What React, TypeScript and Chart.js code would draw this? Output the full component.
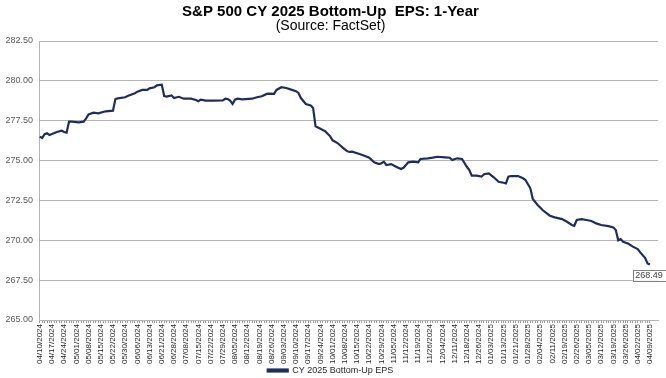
import React, { useEffect, useRef } from 'react';
import { Chart, registerables } from 'chart.js';

Chart.register(...registerables);

const titleText = 'S&P 500 CY 2025 Bottom-Up  EPS: 1-Year';
const subtitleText = '(Source: FactSet)';
const seriesName = 'CY 2025 Bottom-Up EPS';

// Weekly tick labels (every 5th trading day)
const tickLabels = [
  '04/10/2024', '04/17/2024', '04/24/2024', '05/01/2024', '05/08/2024', '05/15/2024', '05/22/2024',
  '05/30/2024', '06/06/2024', '06/13/2024', '06/21/2024', '06/28/2024', '07/08/2024', '07/15/2024',
  '07/22/2024', '07/29/2024', '08/05/2024', '08/12/2024', '08/19/2024', '08/26/2024', '09/03/2024',
  '09/10/2024', '09/17/2024', '09/24/2024', '10/01/2024', '10/08/2024', '10/15/2024', '10/22/2024',
  '10/29/2024', '11/05/2024', '11/12/2024', '11/19/2024', '11/26/2024', '12/04/2024', '12/11/2024',
  '12/18/2024', '12/26/2024', '01/03/2025', '01/13/2025', '01/21/2025', '01/28/2025', '02/04/2025',
  '02/11/2025', '02/19/2025', '02/26/2025', '03/05/2025', '03/12/2025', '03/19/2025', '03/26/2025',
  '04/02/2025', '04/09/2025',
];
const daysPerTick = 5;

// Trading-day index of each observation
const dayIndex = [
  0, 1, 2, 3, 4, 5, 7, 9, 10, 11, 12, 13, 16, 18, 19, 20, 22, 24, 27, 30,
  31, 32, 35, 36, 39, 40, 42, 44, 45, 47, 48, 50, 51, 52, 54, 55, 57, 59, 62, 64,
  65, 66, 68, 71, 75, 76, 77, 78, 79, 80, 81, 83, 87, 89, 91, 93, 94, 96, 97, 99,
  101, 103, 105, 106, 107, 109, 111, 112, 113, 115, 117, 119, 120, 122, 124, 126, 127, 128, 131, 133,
  135, 137, 139, 140, 141, 142, 144, 146, 148, 149, 151, 153, 155, 156, 159, 161, 163, 166, 168, 169,
  171, 173, 175, 176, 177, 179, 181, 182, 184, 186, 188, 190, 191, 192, 193, 196, 198, 199, 201, 202,
  204, 206, 209, 211, 214, 216, 218, 219, 220, 222, 224, 226, 228, 230, 233, 235, 236, 237, 238, 239,
  241, 243, 245, 246, 248, 249, 250,
];

// CY 2025 bottom-up EPS values
const epsValues = [
  276.50, 276.41, 276.65, 276.71, 276.60, 276.66, 276.79, 276.87, 276.79, 276.75,
  277.44, 277.44, 277.40, 277.44, 277.65, 277.90, 278.00, 277.96, 278.09, 278.13,
  278.86, 278.90, 278.97, 279.05, 279.22, 279.32, 279.43, 279.43, 279.53, 279.60,
  279.72, 279.76, 279.05, 279.01, 279.09, 278.92, 279.00, 278.88, 278.88, 278.80,
  278.72, 278.82, 278.76, 278.76, 278.78, 278.88, 278.86, 278.76, 278.55, 278.82,
  278.88, 278.84, 278.88, 278.97, 279.03, 279.18, 279.20, 279.18, 279.43, 279.60,
  279.55, 279.45, 279.35, 279.24, 278.92, 278.55, 278.46, 278.30, 277.15, 277.00,
  276.83, 276.52, 276.27, 276.10, 275.83, 275.58, 275.54, 275.56, 275.41, 275.30,
  275.18, 274.89, 274.78, 274.83, 274.93, 274.72, 274.78, 274.61, 274.47, 274.55,
  274.89, 274.93, 274.89, 275.10, 275.14, 275.18, 275.24, 275.20, 275.18, 275.03,
  275.14, 275.10, 274.61, 274.41, 274.05, 274.05, 273.99, 274.14, 274.20, 273.95,
  273.67, 273.61, 273.57, 273.99, 274.03, 274.03, 273.89, 273.78, 273.26, 272.59,
  272.21, 271.90, 271.54, 271.44, 271.33, 271.16, 270.96, 270.91, 271.27, 271.33,
  271.27, 271.21, 271.06, 270.96, 270.89, 270.81, 270.64, 270.00, 270.08, 269.91,
  269.80, 269.60, 269.45, 269.24, 268.90, 268.55, 268.49,
];

const yMin = 265;
const yMax = 282.5;
const yStep = 2.5;

const FONT = '"Liberation Sans", Arial, sans-serif';
const LINE_COLOR = '#1f2d5c';
const GRID_COLOR = '#b4b4b4';

const lastLabelPlugin = {
  id: 'lastLabel',
  afterDatasetsDraw(chart: any) {
    const meta = chart.getDatasetMeta(0);
    const pts = meta.data;
    if (!pts.length) return;
    const p = pts[pts.length - 1];
    const v = epsValues[epsValues.length - 1];
    const text = v.toFixed(2);
    const ctx = chart.ctx;
    ctx.save();
    ctx.font = `9px ${FONT}`;
    const w = ctx.measureText(text).width + 5;
    const h = 11;
    const cx = p.x - 1;
    const cy = p.y + 11;
    ctx.fillStyle = '#ffffff';
    ctx.fillRect(cx - w / 2, cy - h / 2, w, h);
    ctx.strokeStyle = '#7f7f7f';
    ctx.lineWidth = 1;
    ctx.strokeRect(Math.round(cx - w / 2) + 0.5, Math.round(cy - h / 2) + 0.5, Math.round(w), h);
    ctx.fillStyle = '#404040';
    ctx.textAlign = 'center';
    ctx.textBaseline = 'middle';
    ctx.fillText(text, cx, cy + 0.5);
    ctx.restore();
  },
};

export default function App() {
  const canvasRef = useRef<HTMLCanvasElement | null>(null);

  useEffect(() => {
    document.body.style.margin = '0';
    const canvas = canvasRef.current;
    if (!canvas) return;
    const points = dayIndex.map((d, i) => ({ x: d, y: epsValues[i] }));
    const lastDay = (tickLabels.length - 1) * daysPerTick;

    const chart = new Chart(canvas, {
      type: 'line',
      data: {
        datasets: [
          {
            label: seriesName,
            data: points,
            borderColor: LINE_COLOR,
            backgroundColor: LINE_COLOR,
            borderWidth: 2.2,
            pointRadius: 0,
            tension: 0,
          },
        ],
      },
      options: {
        animation: false,
        responsive: true,
        maintainAspectRatio: false,
        devicePixelRatio: 1,
        layout: { padding: { left: 3, right: 8, top: 0, bottom: -7 } },
        plugins: {
          title: {
            display: true,
            text: titleText,
            color: '#000000',
            font: { family: FONT, size: 15, weight: 'bold', lineHeight: 1.0 },
            padding: { top: 4, bottom: 0 },
          },
          subtitle: {
            display: true,
            text: subtitleText,
            color: '#000000',
            font: { family: FONT, size: 14, weight: 'normal', lineHeight: 1.0 },
            padding: { top: 0, bottom: 8 },
          },
          legend: {
            display: true,
            position: 'bottom',
            labels: {
              color: '#262626',
              font: { family: FONT, size: 9 },
              boxWidth: 20,
              boxHeight: 2,
              padding: 0,
            },
          },
          tooltip: { enabled: false },
        },
        scales: {
          x: {
            type: 'linear',
            min: -0.3,
            max: lastDay + 3.3,
            afterBuildTicks(scale: any) {
              const t = [];
              for (let i = 0; i <= lastDay; i++) t.push({ value: i });
              scale.ticks = t;
            },
            afterFit(scale: any) {
              scale.height = 46;
            },
            ticks: {
              autoSkip: false,
              minRotation: 90,
              maxRotation: 90,
              padding: 1,
              color: '#262626',
              font: { family: FONT, size: 8 },
              callback: (value: any) => {
                const v = Math.round(Number(value));
                return v % daysPerTick === 0 ? tickLabels[v / daysPerTick] : '';
              },
            },
            grid: {
              display: true,
              drawOnChartArea: false,
              drawTicks: true,
              tickLength: 3,
              color: '#9a9a9a',
            },
            border: { display: true, color: '#b4b4b4' },
          },
          y: {
            type: 'linear',
            min: yMin,
            max: yMax,
            afterBuildTicks(scale: any) {
              const t = [];
              for (let v = yMin; v <= yMax + 1e-9; v += yStep) t.push({ value: v });
              scale.ticks = t;
            },
            afterFit(scale: any) {
              scale.width = 36;
            },
            ticks: {
              color: '#595959',
              font: { family: FONT, size: 9 },
              padding: 6,
              callback: (value: any) => Number(value).toFixed(2),
            },
            grid: {
              display: true,
              drawTicks: false,
              color: GRID_COLOR,
              lineWidth: 1,
            },
            border: { display: true, color: '#b4b4b4' },
          },
        },
      },
      plugins: [lastLabelPlugin],
    } as any);

    return () => {
      chart.destroy();
    };
  }, []);

  return (
    <div style={{ position: 'absolute', left: 0, top: 0, width: 666, height: 378, background: '#ffffff' }}>
      <canvas ref={canvasRef} />
    </div>
  );
}
